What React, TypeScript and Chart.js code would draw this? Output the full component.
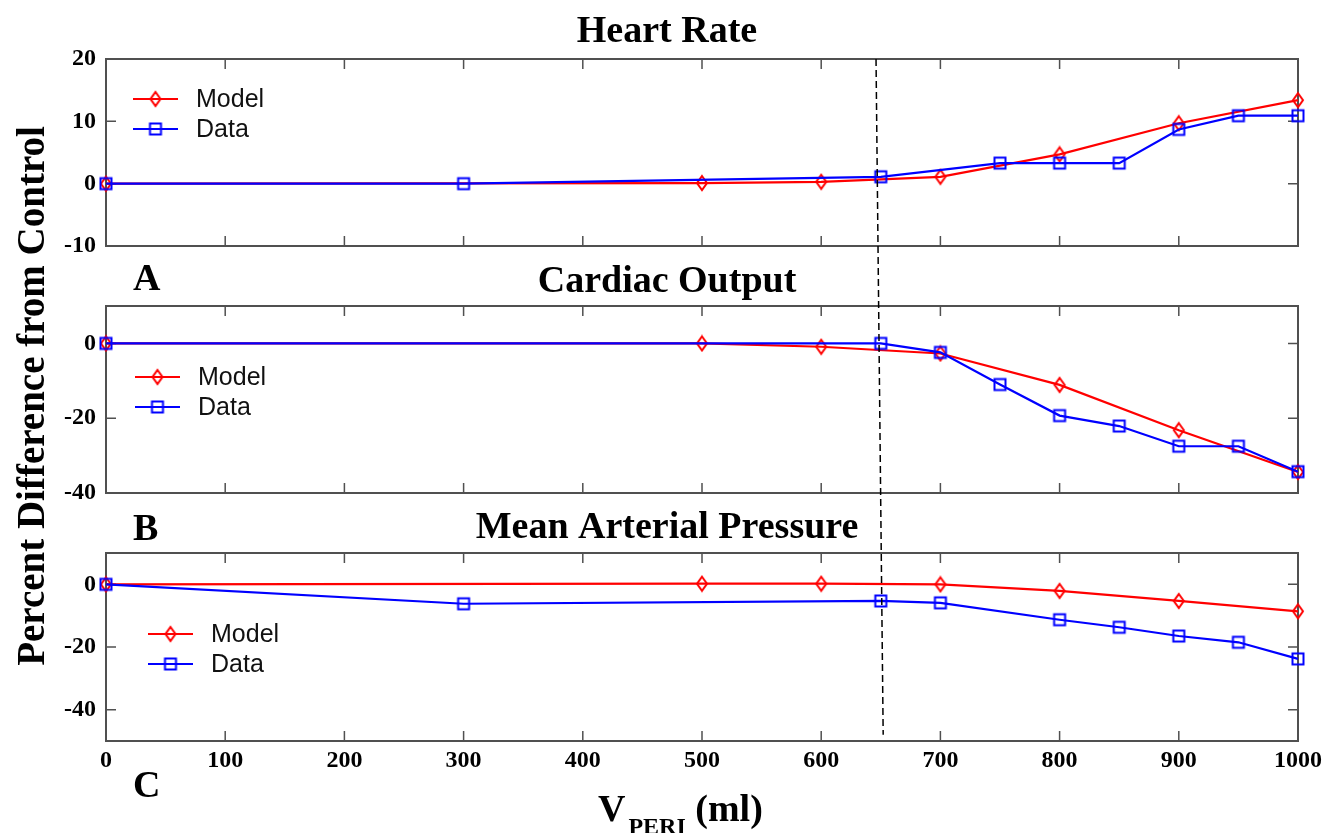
import React, { useEffect, useRef } from "react";
import { Chart, registerables } from "chart.js";
Chart.register(...registerables);

// ---------- data ----------
const xTicks = [0, 100, 200, 300, 400, 500, 600, 700, 800, 900, 1000];

const hrYTicks = [20, 10, 0, -10];
const hrModelX = [0, 500, 600, 700, 800, 900, 1000];
const hrModel = [0, 0.1, 0.3, 1.1, 4.7, 9.7, 13.4];
const hrDataX = [0, 300, 650, 750, 800, 850, 900, 950, 1000];
const hrData = [0, 0, 1.1, 3.3, 3.3, 3.3, 8.7, 10.9, 10.9];

const coYTicks = [0, -20, -40];
const coModelX = [0, 500, 600, 700, 800, 900, 1000];
const coModel = [0, 0, -0.9, -2.7, -11.1, -23.2, -34.4];
const coDataX = [0, 650, 700, 750, 800, 850, 900, 950, 1000];
const coData = [0, 0, -2.4, -11, -19.3, -22.1, -27.5, -27.5, -34.3];

const mapYTicks = [0, -20, -40];
const mapModelX = [0, 500, 600, 700, 800, 900, 1000];
const mapModel = [0, 0.2, 0.2, 0, -2.1, -5.3, -8.6];
const mapDataX = [0, 300, 650, 700, 800, 850, 900, 950, 1000];
const mapData = [0, -6.2, -5.3, -5.9, -11.3, -13.7, -16.5, -18.5, -23.8];

// dashed reference line (V_PERI ~ 650 ml)
const dashTopX = 646;
const dashBottomX = 652;
const dashTopValue = 20; // panel A
const dashBottomValue = -48; // panel C

const seriesLabels = ["Model", "Data"];
const panelTitles = ["Heart Rate", "Cardiac Output", "Mean Arterial Pressure"];
const panelLetters = ["A", "B", "C"];
const yAxisTitle = "Percent Difference from Control";

// ---------- styles ----------
const RED = "#ff0000";
const BLUE = "#0000ff";
const FRAME = "#505050";
const SERIF = '"Liberation Serif", "Times New Roman", serif';
const SANS = '"Liberation Sans", Arial, sans-serif';
const W = 1325;
const H = 833;

function makeDiamond(color: string) {
  const c = document.createElement("canvas");
  c.width = 14;
  c.height = 18;
  const ctx = c.getContext("2d")!;
  ctx.strokeStyle = color;
  ctx.lineWidth = 2;
  ctx.beginPath();
  ctx.moveTo(7, 2);
  ctx.lineTo(12, 9);
  ctx.lineTo(7, 16);
  ctx.lineTo(2, 9);
  ctx.closePath();
  ctx.stroke();
  return c;
}
function makeSquare(color: string) {
  const c = document.createElement("canvas");
  c.width = 16;
  c.height = 16;
  const ctx = c.getContext("2d")!;
  ctx.strokeStyle = color;
  ctx.lineWidth = 2;
  ctx.strokeRect(2.5, 2.5, 11, 11);
  return c;
}

type PanelOpts = {
  modelX: number[];
  modelY: number[];
  dataX: number[];
  dataY: number[];
  yMin: number;
  yMax: number;
  yTicks: number[];
  padTop: number;
  areaBottom: number;
  showX: boolean;
  title: string;
  titleDy: number;
  letter: string;
  letterDy: number;
  legendDx: number;
  legendDy: number;
  extra?: (chart: any) => void;
};

function makeConfig(p: PanelOpts, diamond: HTMLCanvasElement, square: HTMLCanvasElement): any {
  const xAxisH = 40;
  const padBottom = H - p.areaBottom - (p.showX ? xAxisH : 0);
  const plugin = {
    id: "panelDecor",
    beforeDatasetsDraw(chart: any) {
      const { ctx, chartArea: a, scales } = chart;
      ctx.save();
      ctx.strokeStyle = FRAME;
      ctx.lineWidth = 2;
      ctx.strokeRect(a.left, a.top, a.right - a.left, a.bottom - a.top);
      ctx.lineWidth = 1.5;
      ctx.beginPath();
      for (const v of xTicks) {
        const px = scales.x.getPixelForValue(v);
        ctx.moveTo(px, a.top);
        ctx.lineTo(px, a.top + 10);
        ctx.moveTo(px, a.bottom);
        ctx.lineTo(px, a.bottom - 10);
      }
      for (const v of p.yTicks) {
        const py = scales.y.getPixelForValue(v);
        ctx.moveTo(a.left, py);
        ctx.lineTo(a.left + 10, py);
        ctx.moveTo(a.right, py);
        ctx.lineTo(a.right - 10, py);
      }
      ctx.stroke();
      ctx.restore();
    },
    afterDraw(chart: any) {
      const { ctx, chartArea: a } = chart;
      ctx.save();
      // title
      ctx.fillStyle = "#000";
      ctx.font = `bold 38px ${SERIF}`;
      ctx.textAlign = "center";
      ctx.textBaseline = "alphabetic";
      ctx.fillText(p.title, 667, a.top + p.titleDy);
      // letter
      ctx.textAlign = "left";
      ctx.fillText(p.letter, 133, a.bottom + p.letterDy);
      // legend
      const lx = a.left + p.legendDx;
      const ly = a.top + p.legendDy;
      const rows = [
        { color: RED, img: diamond, label: seriesLabels[0] },
        { color: BLUE, img: square, label: seriesLabels[1] },
      ];
      rows.forEach((r, i) => {
        const y = ly + i * 30;
        ctx.strokeStyle = r.color;
        ctx.lineWidth = 2;
        ctx.beginPath();
        ctx.moveTo(lx, y);
        ctx.lineTo(lx + 45, y);
        ctx.stroke();
        ctx.drawImage(r.img, lx + 22.5 - r.img.width / 2, y - r.img.height / 2);
        ctx.fillStyle = "#111";
        ctx.font = `25px ${SANS}`;
        ctx.textBaseline = "middle";
        ctx.textAlign = "left";
        ctx.fillText(r.label, lx + 63, y + 1);
      });
      ctx.restore();
      if (p.extra) p.extra(chart);
    },
  };

  return {
    type: "line",
    data: {
      datasets: [
        {
          label: seriesLabels[0],
          data: p.modelX.map((x, i) => ({ x, y: p.modelY[i] })),
          borderColor: RED,
          backgroundColor: RED,
          borderWidth: 2.2,
          pointStyle: diamond,
          pointRadius: 7,
          tension: 0,
          clip: false,
          order: 1,
        },
        {
          label: seriesLabels[1],
          data: p.dataX.map((x, i) => ({ x, y: p.dataY[i] })),
          borderColor: BLUE,
          backgroundColor: BLUE,
          borderWidth: 2.2,
          pointStyle: square,
          pointRadius: 7,
          tension: 0,
          clip: false,
          order: 0,
        },
      ],
    },
    options: {
      responsive: false,
      animation: false,
      events: [],
      layout: { padding: { top: p.padTop, bottom: padBottom, left: 0, right: W - 1298 } },
      plugins: { legend: { display: false }, tooltip: { enabled: false }, title: { display: false } },
      scales: {
        x: {
          type: "linear",
          min: 0,
          max: 1000,
          display: p.showX,
          grid: { display: false },
          border: { display: false },
          afterBuildTicks: (s: any) => {
            s.ticks = xTicks.map((v) => ({ value: v }));
          },
          afterFit: (s: any) => {
            if (p.showX) s.height = xAxisH;
            s.paddingLeft = 0;
            s.paddingRight = 0;
          },
          ticks: {
            color: "#000",
            font: { family: SERIF, weight: "bold", size: 24 },
            padding: -3,
            maxRotation: 0,
            autoSkip: false,
            callback: (v: any) => String(v),
          },
        },
        y: {
          type: "linear",
          position: "left",
          min: p.yMin,
          max: p.yMax,
          grid: { display: false },
          border: { display: false },
          afterBuildTicks: (s: any) => {
            s.ticks = p.yTicks.map((v) => ({ value: v }));
          },
          afterFit: (s: any) => {
            s.width = 106;
            s.paddingTop = 0;
            s.paddingBottom = 0;
          },
          ticks: {
            color: "#000",
            font: { family: SERIF, weight: "bold", size: 24 },
            padding: 2,
            callback: (v: any) => String(v),
          },
        },
      },
    },
    plugins: [plugin],
  };
}

export default function App() {
  const refA = useRef<HTMLCanvasElement>(null);
  const refB = useRef<HTMLCanvasElement>(null);
  const refC = useRef<HTMLCanvasElement>(null);

  useEffect(() => {
    document.body.style.margin = "0";
    const diamond = makeDiamond(RED);
    const square = makeSquare(BLUE);
    const holder: { a: any } = { a: null };

    const chartA = new Chart(
      refA.current!,
      makeConfig(
        {
          modelX: hrModelX, modelY: hrModel, dataX: hrDataX, dataY: hrData,
          yMin: -10, yMax: 20, yTicks: hrYTicks,
          padTop: 59, areaBottom: 246, showX: false,
          title: panelTitles[0], titleDy: -17, letter: panelLetters[0], letterDy: 44,
          legendDx: 27, legendDy: 40,
        },
        diamond, square
      )
    );
    holder.a = chartA;

    const chartB = new Chart(
      refB.current!,
      makeConfig(
        {
          modelX: coModelX, modelY: coModel, dataX: coDataX, dataY: coData,
          yMin: -40, yMax: 10, yTicks: coYTicks,
          padTop: 306, areaBottom: 493, showX: false,
          title: panelTitles[1], titleDy: -14, letter: panelLetters[1], letterDy: 47,
          legendDx: 29, legendDy: 71,
          extra: (chart: any) => {
            const ctx = chart.ctx;
            ctx.save();
            ctx.translate(44, 396);
            ctx.rotate(-Math.PI / 2);
            ctx.fillStyle = "#000";
            ctx.font = `bold 39px ${SERIF}`;
            ctx.textAlign = "center";
            ctx.textBaseline = "alphabetic";
            ctx.fillText(yAxisTitle, 0, 0);
            ctx.restore();
          },
        },
        diamond, square
      )
    );

    const chartC = new Chart(
      refC.current!,
      makeConfig(
        {
          modelX: mapModelX, modelY: mapModel, dataX: mapDataX, dataY: mapData,
          yMin: -50, yMax: 10, yTicks: mapYTicks,
          padTop: 553, areaBottom: 741, showX: true,
          title: panelTitles[2], titleDy: -15, letter: panelLetters[2], letterDy: 56,
          legendDx: 42, legendDy: 81,
          extra: (chart: any) => {
            const ctx = chart.ctx;
            const xs = chart.scales.x;
            const a = holder.a;
            ctx.save();
            // dashed reference line across all panels
            const x0 = xs.getPixelForValue(dashTopX);
            const y0 = a ? a.scales.y.getPixelForValue(dashTopValue) : 59;
            const x1 = xs.getPixelForValue(dashBottomX);
            const y1 = chart.scales.y.getPixelForValue(dashBottomValue);
            ctx.strokeStyle = "#000";
            ctx.lineWidth = 1.5;
            ctx.setLineDash([7, 4]);
            ctx.beginPath();
            ctx.moveTo(x0, y0);
            ctx.lineTo(x1, y1);
            ctx.stroke();
            ctx.setLineDash([]);
            // x axis title: V_PERI (ml)
            ctx.fillStyle = "#000";
            ctx.textAlign = "left";
            ctx.textBaseline = "alphabetic";
            let x = 598;
            ctx.font = `bold 38px ${SERIF}`;
            ctx.fillText("V", x, 821);
            x += ctx.measureText("V").width + 3;
            ctx.font = `bold 24px ${SERIF}`;
            ctx.fillText("PERI", x, 834);
            x += ctx.measureText("PERI").width;
            ctx.font = `bold 38px ${SERIF}`;
            ctx.fillText(" (ml)", x, 821);
            ctx.restore();
          },
        },
        diamond, square
      )
    );
    // redraw C so the dashed line can use chart A's scale
    chartC.draw();

    return () => {
      chartA.destroy();
      chartB.destroy();
      chartC.destroy();
    };
  }, []);

  const cs: React.CSSProperties = { position: "absolute", left: 0, top: 0 };
  return (
    <div style={{ position: "absolute", left: 0, top: 0, width: W, height: H, background: "#fff", overflow: "hidden" }}>
      <canvas ref={refA} width={W} height={H} style={cs} />
      <canvas ref={refB} width={W} height={H} style={cs} />
      <canvas ref={refC} width={W} height={H} style={cs} />
    </div>
  );
}
